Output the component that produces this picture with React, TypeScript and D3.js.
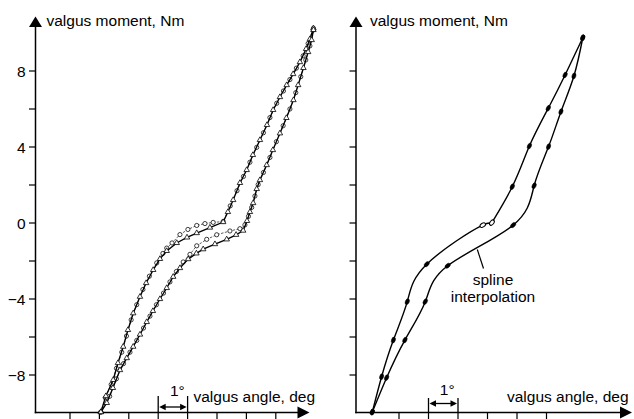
import React from 'react';
import * as d3 from 'd3';

const W = 634;
const H = 419;

const Y_TICKS = [-8, -6, -4, -2, 0, 2, 4, 6, 8];
const Y_TICK_LABELS = [8, 4, 0, -4, -8];
const LEFT_X_TICKS = [1, 2, 3, 4, 5, 6, 7, 8];
const RIGHT_X_TICKS = [1, 2, 3, 4, 5, 6];
const LEFT_BRACKET = [4, 5];
const RIGHT_BRACKET = [2, 3];

// Left panel, [valgus angle (deg, axis units), valgus moment (Nm)]
const leftLoadSolid: [number, number][] = [
  [2.05, -9.95], [2.22, -9.11], [2.47, -8.26], [2.63, -7.37], [2.81, -6.51], [2.97, -5.63],
  [3.15, -4.75], [3.38, -3.88], [3.59, -3.16], [3.83, -2.47], [4.06, -1.89], [4.29, -1.47],
  [4.63, -1.05], [4.98, -0.76], [5.31, -0.53], [5.76, -0.24], [6.21, 0.05], [6.37, 0.58],
  [6.55, 1.21], [6.78, 2.11], [7.01, 2.79], [7.22, 3.58], [7.46, 4.37], [7.70, 5.16],
  [7.91, 5.95], [8.14, 6.63], [8.37, 7.26], [8.59, 7.84], [8.82, 8.47], [9.03, 9.16],
  [9.16, 9.68], [9.28, 10.25],
];
const leftLoadDashed: [number, number][] = [
  [2.05, -9.95], [2.2, -9.2], [2.4, -8.5], [2.58, -7.65], [2.76, -6.8], [2.92, -5.95],
  [3.08, -5.1], [3.27, -4.3], [3.48, -3.5], [3.7, -2.8], [3.95, -2.1], [4.16, -1.6],
  [4.29, -1.32], [4.47, -1.05], [4.74, -0.61], [5.01, -0.34], [5.31, -0.13], [5.59, -0.03],
  [5.87, 0.03], [6.21, 0.08], [6.45, 0.9], [6.68, 1.7], [6.9, 2.45], [7.12, 3.2],
  [7.35, 3.98], [7.58, 4.75], [7.8, 5.55], [8.03, 6.3], [8.26, 6.95], [8.48, 7.55],
  [8.7, 8.15], [8.93, 8.8], [9.1, 9.45], [9.28, 10.25],
];
const leftUnloadSolid: [number, number][] = [
  [2.05, -9.95], [2.25, -9.47], [2.46, -8.68], [2.70, -7.74], [2.93, -7.11], [3.15, -6.51],
  [3.38, -5.87], [3.61, -5.21], [3.82, -4.63], [4.06, -4.0], [4.29, -3.42], [4.51, -2.83],
  [4.74, -2.37], [5.02, -1.9], [5.30, -1.6], [5.53, -1.38], [5.93, -1.11], [6.33, -0.86],
  [6.65, -0.62], [6.89, -0.4], [7.02, 0.11], [7.12, 0.58], [7.23, 1.05], [7.35, 1.79],
  [7.46, 2.26], [7.69, 3.05], [7.90, 3.84], [8.14, 4.72], [8.36, 5.53], [8.60, 6.47],
  [8.76, 7.26], [8.94, 8.16], [9.10, 9.0], [9.22, 9.63], [9.28, 10.16],
];
const leftUnloadDashed: [number, number][] = [
  [2.05, -9.95], [2.35, -9.12], [2.58, -8.2], [2.82, -7.4], [3.04, -6.8], [3.27, -6.18],
  [3.5, -5.53], [3.72, -4.9], [3.94, -4.3], [4.18, -3.69], [4.4, -3.1], [4.62, -2.55],
  [4.85, -2.05], [5.08, -1.65], [5.31, -1.2], [5.65, -0.86], [5.99, -0.62], [6.44, -0.42],
  [6.78, -0.3], [6.95, -0.1], [7.07, 0.35], [7.18, 0.82], [7.29, 1.42], [7.4, 2.02],
  [7.58, 2.66], [7.8, 3.45], [8.02, 4.28], [8.25, 5.12], [8.48, 6.0], [8.68, 6.86],
  [8.85, 7.7], [9.02, 8.58], [9.16, 9.32], [9.28, 10.16],
];

// Right panel (spline interpolation)
const rightUpper: [number, number][] = [
  [0.095, -9.95], [0.41, -8.09], [0.81, -6.16], [1.28, -4.14], [1.94, -2.17], [3.84, -0.11],
  [4.15, 0.02], [4.84, 1.91], [5.42, 4.05], [6.06, 6.04], [6.63, 7.79], [7.23, 9.75],
];
const rightLower: [number, number][] = [
  [0.095, -9.95], [0.58, -8.14], [1.20, -6.16], [1.89, -4.14], [2.65, -2.25], [4.87, -0.11],
  [5.58, 1.96], [6.07, 4.02], [6.49, 5.86], [6.93, 7.74], [7.23, 9.75],
];
const rightOpenMarkers = [5, 6]; // indices on rightUpper drawn as open ellipses

const FONT = 'Liberation Sans, Arial, Helvetica, sans-serif';
const FS = 15.5;

function Arrow({ x, y, dir }: { x: number; y: number; dir: 'up' | 'right' }) {
  let d = '';
  if (dir === 'up') d = `M${x},${y} L${x - 6.5},${y + 10.5} L${x + 6.5},${y + 10.5} Z`;
  if (dir === 'right') d = `M${x},${y} L${x - 12},${y - 6} L${x - 12},${y + 6} Z`;
  return <path d={d} fill="#000" />;
}

function Bracket({ x0, x1, top, ay }: { x0: number; x1: number; top: number; ay: number }) {
  const ah = 6.5, hw = 3.2;
  return (
    <g>
      <line x1={x0} x2={x0} y1={top} y2={412.5} stroke="#000" strokeWidth={1.3} />
      <line x1={x1} x2={x1} y1={top} y2={412.5} stroke="#000" strokeWidth={1.3} />
      <line x1={x0 + 3} x2={x1 - 3} y1={ay} y2={ay} stroke="#000" strokeWidth={1.3} />
      <path d={`M${x0 + 1},${ay} L${x0 + 1 + ah},${ay - hw} L${x0 + 1 + ah},${ay + hw} Z`} fill="#000" />
      <path d={`M${x1 - 1},${ay} L${x1 - 1 - ah},${ay - hw} L${x1 - 1 - ah},${ay + hw} Z`} fill="#000" />
    </g>
  );
}

export default function App() {
  const y = d3.scaleLinear().domain([-10, 10]).range([413, 33]);
  const xL = d3.scaleLinear().domain([0, 9]).range([40.6, 40.6 + 29.4 * 9]);
  const xR = d3.scaleLinear().domain([0, 9]).range([369.5, 369.5 + 29.5 * 9]);

  const axisY = 412.5;
  const leftAxisX = 35.5;
  const rightAxisX = 356;

  const lineL = d3.line<[number, number]>().x((d) => xL(d[0])).y((d) => y(d[1]));
  const lineR = d3
    .line<[number, number]>()
    .x((d) => xR(d[0]))
    .y((d) => y(d[1]))
    .curve(d3.curveNatural);

  const tri = d3.symbol(d3.symbolTriangle, 13)()!;

  const renderYAxis = (ax: number, labels: boolean) => (
    <g>
      <line x1={ax} x2={ax} y1={axisY + 0.75} y2={26} stroke="#000" strokeWidth={1.5} />
      <Arrow x={ax} y={16.5} dir="up" />
      {Y_TICKS.map((t) => (
        <line key={t} x1={ax - 6.5} x2={ax} y1={y(t)} y2={y(t)} stroke="#000" strokeWidth={1.2} />
      ))}
      {labels &&
        Y_TICK_LABELS.map((t) => (
          <text key={t} x={ax - 10} y={y(t) + 5.5} textAnchor="end" fontSize={FS}>
            {t < 0 ? `\u2212${Math.abs(t)}` : `${t}`}
          </text>
        ))}
    </g>
  );

  const ellipseAngle = (pts: [number, number][], i: number) => {
    const a = pts[Math.max(0, i - 1)];
    const b = pts[Math.min(pts.length - 1, i + 1)];
    const dx = xR(b[0]) - xR(a[0]);
    const dy = y(b[1]) - y(a[1]);
    return (Math.atan2(dy, dx) * 180) / Math.PI + 90;
  };

  return (
    <svg
      width={W}
      height={H}
      style={{ position: 'absolute', left: 0, top: 0, background: '#fff' }}
      fontFamily={FONT}
    >
      <rect x={0} y={0} width={W} height={H} fill="#fff" />

      {/* LEFT PANEL */}
      {renderYAxis(leftAxisX, true)}
      <line x1={leftAxisX - 0.75} x2={300} y1={axisY} y2={axisY} stroke="#000" strokeWidth={1.5} />
      <Arrow x={309.5} y={axisY} dir="right" />
      {LEFT_X_TICKS.map((t) => (
        <line key={t} x1={xL(t)} x2={xL(t)} y1={axisY} y2={H} stroke="#000" strokeWidth={1.2} />
      ))}
      <Bracket x0={xL(LEFT_BRACKET[0])} x1={xL(LEFT_BRACKET[1])} top={396} ay={407} />
      <text x={(xL(LEFT_BRACKET[0]) + xL(LEFT_BRACKET[1])) / 2 + 4.5} y={396} textAnchor="middle" fontSize={FS}>
        1°
      </text>
      <text x={193.5} y={401.5} fontSize={FS}>
        valgus angle, deg
      </text>
      <text x={46.5} y={26} fontSize={FS}>
        valgus moment, Nm
      </text>

      {[leftLoadDashed, leftUnloadDashed].map((pts, k) => (
        <g key={'d' + k}>
          <path d={lineL(pts)!} fill="none" stroke="#333" strokeWidth={0.8} strokeDasharray="2.5,1.5" />
          {pts.map((p, i) => (
            <circle key={i} cx={xL(p[0])} cy={y(p[1])} r={2.1} fill="#fff" stroke="#000" strokeWidth={0.75} />
          ))}
        </g>
      ))}
      {[leftLoadSolid, leftUnloadSolid].map((pts, k) => (
        <g key={'s' + k}>
          <path d={lineL(pts)!} fill="none" stroke="#000" strokeWidth={1.35} />
          {pts.map((p, i) => (
            <path
              key={i}
              d={tri}
              transform={`translate(${xL(p[0])},${y(p[1])})`}
              fill="#fff"
              stroke="#000"
              strokeWidth={0.8}
            />
          ))}
        </g>
      ))}

      {/* RIGHT PANEL */}
      {renderYAxis(rightAxisX, false)}
      <line x1={rightAxisX - 0.75} x2={622} y1={axisY} y2={axisY} stroke="#000" strokeWidth={1.5} />
      <Arrow x={632} y={axisY} dir="right" />
      {RIGHT_X_TICKS.map((t) => (
        <line key={t} x1={xR(t)} x2={xR(t)} y1={axisY} y2={H} stroke="#000" strokeWidth={1.2} />
      ))}
      <Bracket x0={xR(RIGHT_BRACKET[0])} x1={xR(RIGHT_BRACKET[1])} top={398} ay={403.5} />
      <text x={(xR(RIGHT_BRACKET[0]) + xR(RIGHT_BRACKET[1])) / 2 + 4} y={394.5} textAnchor="middle" fontSize={FS}>
        1°
      </text>
      <text x={507} y={401.5} fontSize={FS}>
        valgus angle, deg
      </text>
      <text x={370} y={26} fontSize={FS}>
        valgus moment, Nm
      </text>

      {[rightUpper, rightLower].map((pts, k) => (
        <g key={'r' + k}>
          <path d={lineR(pts)!} fill="none" stroke="#000" strokeWidth={1.4} />
          {pts.map((p, i) => {
            const open = k === 0 && rightOpenMarkers.includes(i);
            return (
              <ellipse
                key={i}
                cx={xR(p[0])}
                cy={y(p[1])}
                rx={1.9}
                ry={3}
                transform={`rotate(${ellipseAngle(pts, i)},${xR(p[0])},${y(p[1])})`}
                fill={open ? '#fff' : '#000'}
                stroke="#000"
                strokeWidth={open ? 1 : 0.5}
              />
            );
          })}
        </g>
      ))}

      <line x1={477.3} y1={249.5} x2={483.5} y2={268.5} stroke="#000" strokeWidth={1.2} />
      <text x={493} y={284.5} textAnchor="middle" fontSize={FS}>
        spline
      </text>
      <text x={493} y={302} textAnchor="middle" fontSize={FS}>
        interpolation
      </text>
    </svg>
  );
}
